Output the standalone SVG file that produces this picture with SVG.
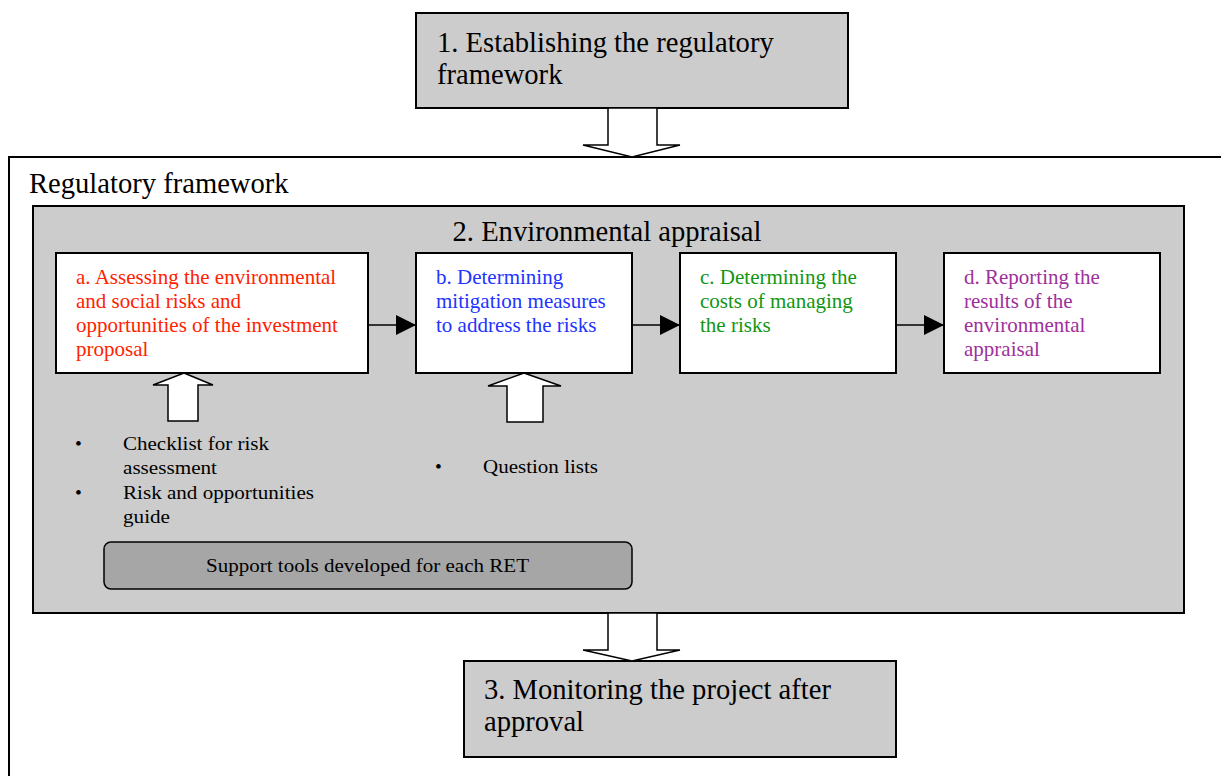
<svg xmlns="http://www.w3.org/2000/svg" width="1221" height="776" viewBox="0 0 1221 776">
<defs>
<style>
text{font-family:"Liberation Serif","Times New Roman",Times,serif;}
.big{font-size:28.6px;fill:#000;}
.mid{font-size:21px;}
.small{font-size:19.5px;fill:#000;}
.box{stroke:#000;stroke-width:2;}
.white{fill:#fff;}
.gray{fill:#cccccc;}
.blk{fill:#fff;stroke:#000;stroke-width:1.5;}
</style>
<marker id="ah" markerWidth="20" markerHeight="20" refX="20" refY="10" orient="auto" markerUnits="userSpaceOnUse">
<path d="M0,0 L20,10 L0,20 Z" fill="#000"/>
</marker>
</defs>
<rect width="1221" height="776" fill="#fff"/>
<g id="frame">
<rect x="9" y="157" width="1240" height="640" fill="#fff" stroke="#000" stroke-width="2"/>
<text class="big" x="29" y="193">Regulatory framework</text>
</g>
<g id="appraisal">
<rect class="box gray" x="33" y="206" width="1151" height="407"/>
<text class="big" x="607" y="241" text-anchor="middle">2. Environmental appraisal</text>
</g>
<g id="node1">
<rect class="box gray" x="416" y="13" width="432" height="95"/>
<text class="big" x="437" y="52">1. Establishing the regulatory</text>
<text class="big" x="437" y="84">framework</text>
</g>
<g id="node3">
<rect class="box gray" x="464" y="661" width="432" height="96"/>
<text class="big" x="484" y="699">3. Monitoring the project after</text>
<text class="big" x="484" y="731">approval</text>
</g>
<g id="nodeA">
<rect class="box white" x="56" y="253" width="312" height="120"/>
<text class="mid" fill="#ff2200"><tspan x="76" y="284">a. Assessing the environmental</tspan><tspan x="76" y="308">and social risks and</tspan><tspan x="76" y="332">opportunities of the investment</tspan><tspan x="76" y="356">proposal</tspan></text>
</g>
<g id="nodeB">
<rect class="box white" x="416" y="253" width="216" height="120"/>
<text class="mid" fill="#2233ff"><tspan x="436" y="284">b. Determining</tspan><tspan x="436" y="308">mitigation measures</tspan><tspan x="436" y="332">to address the risks</tspan></text>
</g>
<g id="nodeC">
<rect class="box white" x="680" y="253" width="216" height="120"/>
<text class="mid" fill="#129612"><tspan x="700" y="284">c. Determining the</tspan><tspan x="700" y="308">costs of managing</tspan><tspan x="700" y="332">the risks</tspan></text>
</g>
<g id="nodeD">
<rect class="box white" x="944" y="253" width="216" height="120"/>
<text class="mid" fill="#9e2f9c"><tspan x="964" y="284">d. Reporting the</tspan><tspan x="964" y="308">results of the</tspan><tspan x="964" y="332">environmental</tspan><tspan x="964" y="356">appraisal</tspan></text>
</g>
<g id="toolsA">
<text class="small" x="75" y="450">•</text>
<text class="small" x="123" y="450" textLength="146" lengthAdjust="spacingAndGlyphs">Checklist for risk</text>
<text class="small" x="123" y="474" textLength="94" lengthAdjust="spacingAndGlyphs">assessment</text>
<text class="small" x="75" y="499">•</text>
<text class="small" x="123" y="499" textLength="191" lengthAdjust="spacingAndGlyphs">Risk and opportunities</text>
<text class="small" x="123" y="523" textLength="47" lengthAdjust="spacingAndGlyphs">guide</text>
</g>
<g id="toolsB">
<text class="small" x="435" y="473">•</text>
<text class="small" x="483" y="473" textLength="115" lengthAdjust="spacingAndGlyphs">Question lists</text>
</g>
<g id="support">
<rect x="104" y="542" width="528" height="47" rx="7" fill="#a6a6a6" stroke="#000" stroke-width="1.5"/>
<text class="small" x="206" y="572" textLength="323" lengthAdjust="spacingAndGlyphs">Support tools developed for each RET</text>
</g>
<g id="connectors">
<polygon class="blk" points="608,108 657,108 657,145 680,145 632,157 583,145 608,145"/>
<polygon class="blk" points="608,613 657,613 657,650 680,650 632,661 583,650 608,650"/>
<polygon class="blk" points="184,373 213,385 198,385 198,421 168,421 168,385 153,385"/>
<polygon class="blk" points="524,373 561,386 543,386 543,422 507,422 507,386 488,386"/>
<line x1="368" y1="325" x2="416" y2="325" stroke="#000" stroke-width="1.5" marker-end="url(#ah)"/>
<line x1="632" y1="325" x2="680" y2="325" stroke="#000" stroke-width="1.5" marker-end="url(#ah)"/>
<line x1="896" y1="325" x2="944" y2="325" stroke="#000" stroke-width="1.5" marker-end="url(#ah)"/>
</g>
</svg>
